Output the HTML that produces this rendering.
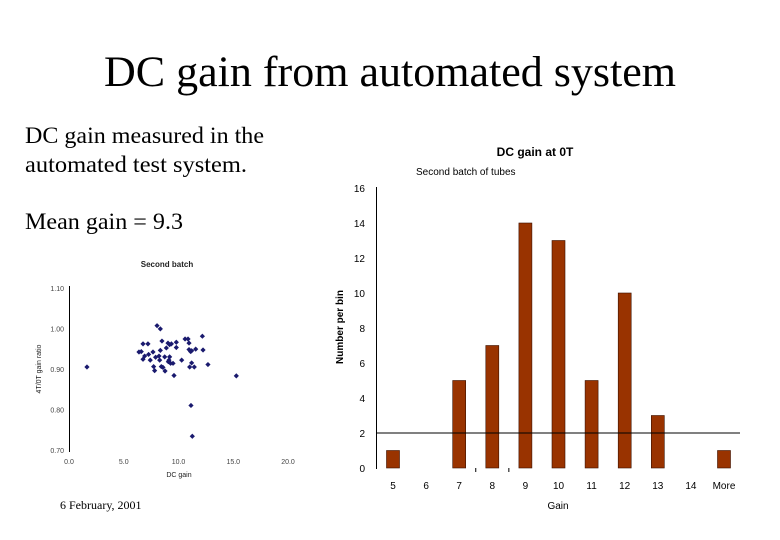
<!DOCTYPE html>
<html><head><meta charset="utf-8"><style>
html,body{margin:0;padding:0;background:#fff;}
svg{display:block;}
</style></head><body>
<svg id="s" width="780" height="540" viewBox="0 0 780 540" xmlns="http://www.w3.org/2000/svg">
<text x="390" y="86" text-anchor="middle" textLength="572" lengthAdjust="spacingAndGlyphs" font-family="Liberation Serif, serif" font-size="43" fill="#000">DC gain from automated system</text>
<text x="25" y="143" textLength="239" lengthAdjust="spacingAndGlyphs" font-family="Liberation Serif, serif" font-size="23" fill="#000">DC gain measured in the</text>
<text x="25" y="172" textLength="222" lengthAdjust="spacingAndGlyphs" font-family="Liberation Serif, serif" font-size="23" fill="#000">automated test system.</text>
<text x="25" y="229" textLength="158" lengthAdjust="spacingAndGlyphs" font-family="Liberation Serif, serif" font-size="23" fill="#000">Mean gain = 9.3</text>
<text x="60" y="509" font-family="Liberation Serif, serif" font-size="12" fill="#000">6 February, 2001</text>
<g id="scatter"></g>
<g id="bar"></g>
</svg>
<script>
const scatterX=[1.64,8.04,8.34,6.76,7.21,6.39,6.6,6.91,6.76,7.27,7.42,7.67,7.91,8.22,8.34,8.28,8.49,7.73,7.82,8.43,8.58,8.74,8.77,8.89,9.04,9.19,9.35,9.8,9.8,9.07,9.19,9.28,9.5,9.13,9.59,10.29,10.6,10.87,10.96,10.96,11.11,11.2,11.57,12.18,12.24,11.02,11.2,11.44,12.69,15.28,11.14,11.26];
const scatterY=[0.905,1.007,0.999,0.962,0.962,0.942,0.943,0.932,0.924,0.936,0.922,0.942,0.929,0.932,0.946,0.922,0.969,0.906,0.896,0.906,0.904,0.930,0.895,0.952,0.964,0.960,0.962,0.966,0.953,0.918,0.930,0.914,0.914,0.922,0.884,0.922,0.974,0.974,0.964,0.948,0.943,0.945,0.949,0.981,0.947,0.905,0.915,0.905,0.911,0.883,0.810,0.734];
const scatterXTicks=["0.0","5.0","10.0","15.0","20.0"];
const scatterXTickVals=[0,5,10,15,20];
const scatterYTicks=["0.70","0.80","0.90","1.00","1.10"];
const scatterYTickVals=[0.7,0.8,0.9,1.0,1.1];
const barCats=["5","6","7","8","9","10","11","12","13","14","More"];
const barVals=[1,0,5,7,14,13,5,10,3,0,1];
const barYTicks=[0,2,4,6,8,10,12,14,16];
const NS="http://www.w3.org/2000/svg";
function mk(parent,tag,attrs,txt){const e=document.createElementNS(NS,tag);for(const k in attrs)e.setAttribute(k,attrs[k]);if(txt!=null)e.textContent=txt;parent.appendChild(e);return e;}
// scatter
const sg=document.getElementById('scatter');
const sx=v=>69+v*10.95, sy=v=>450-(v-0.7)*405;
let l=mk(sg,'line',{x1:69.5,y1:286,x2:69.5,y2:452,stroke:'#000','stroke-width':1});


let t=mk(sg,'text',{x:167,y:267,'text-anchor':'middle','font-family':'Liberation Sans, sans-serif','font-size':8,'font-weight':'bold',fill:'#222'},'Second batch');


scatterXTicks.forEach((s,i)=>{const e=mk(sg,'text',{x:sx(scatterXTickVals[i]),y:464,'text-anchor':'middle','font-family':'Liberation Sans, sans-serif','font-size':7,fill:'#444'},s);

});
scatterYTicks.forEach((s,i)=>{const e=mk(sg,'text',{x:64,y:sy(scatterYTickVals[i])+3,'text-anchor':'end','font-family':'Liberation Sans, sans-serif','font-size':7,fill:'#444'},s);

});
t=mk(sg,'text',{x:179,y:477,'text-anchor':'middle','font-family':'Liberation Sans, sans-serif','font-size':7,fill:'#222'},'DC gain');


t=mk(sg,'text',{x:0,y:0,'text-anchor':'middle','font-family':'Liberation Sans, sans-serif','font-size':7,fill:'#222',transform:'translate(41,369) rotate(-90)'},'4T/0T gain ratio');


scatterX.forEach((v,i)=>{const x=sx(v),y=sy(scatterY[i]);
const p=mk(sg,'polygon',{points:`${x},${y-2.6} ${x+2.6},${y} ${x},${y+2.6} ${x-2.6},${y}`,fill:'#1a1a6e'});

});
// bar
const bg=document.getElementById('bar');
const bx=i=>393+i*33.1, by=v=>468-v*17.5;
t=mk(bg,'text',{x:535,y:156,'text-anchor':'middle','font-family':'Liberation Sans, sans-serif','font-size':12,'font-weight':'bold',fill:'#000'},'DC gain at 0T');


t=mk(bg,'text',{x:416,y:175,'font-family':'Liberation Sans, sans-serif','font-size':10,fill:'#000'},'Second batch of tubes');


barYTicks.forEach(v=>{const e=mk(bg,'text',{x:365,y:by(v)+4,'text-anchor':'end','font-family':'Liberation Sans, sans-serif','font-size':10,fill:'#000'},String(v));

});
l=mk(bg,'line',{x1:376.5,y1:187,x2:376.5,y2:469,stroke:'#000','stroke-width':1});


[2.5,3.5].forEach(p=>{const m=mk(bg,'line',{x1:bx(p),y1:468,x2:bx(p),y2:472,stroke:'#000','stroke-width':1});

});
barVals.forEach((v,i)=>{const r=mk(bg,'rect',{x:bx(i)-6.5,y:by(v),width:13,height:v*17.5,fill:'#993300',stroke:'#3a1000','stroke-width':0.6});

});
l=mk(bg,'line',{x1:376.5,y1:by(2),x2:740,y2:by(2),stroke:'#000','stroke-width':1});


barCats.forEach((c,i)=>{const e=mk(bg,'text',{x:bx(i),y:489,'text-anchor':'middle','font-family':'Liberation Sans, sans-serif','font-size':10,fill:'#000'},c);

});
t=mk(bg,'text',{x:558,y:509,'text-anchor':'middle','font-family':'Liberation Sans, sans-serif','font-size':10,fill:'#000'},'Gain');


t=mk(bg,'text',{x:0,y:0,'text-anchor':'middle','font-family':'Liberation Sans, sans-serif','font-size':10,'font-weight':'bold',fill:'#000',transform:'translate(343,327) rotate(-90)'},'Number per bin');


</script>
</body></html>
